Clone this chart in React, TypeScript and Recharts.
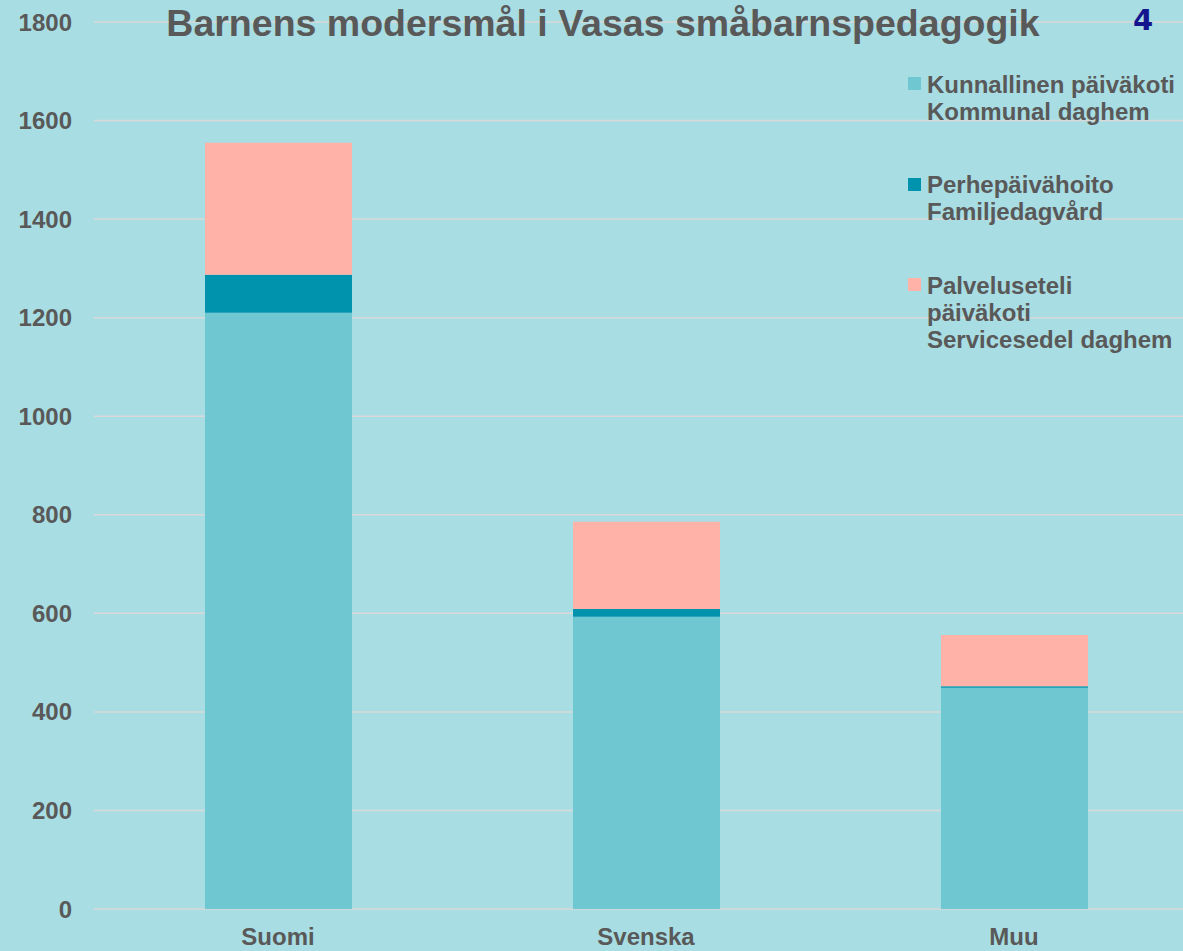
import React from "react";
import {
  BarChart,
  Bar,
  XAxis,
  YAxis,
  CartesianGrid,
  Legend,
} from "recharts";

const CATEGORIES = ["Suomi", "Svenska", "Muu"];
const KOMMUNAL = [1210, 593, 449];
const FAMILJEDAGVARD = [77, 16, 3];
const SERVICESEDEL = [268, 177, 104];
const Y_TICKS = [0, 200, 400, 600, 800, 1000, 1200, 1400, 1600, 1800];

const SERIES = [
  { key: "kommunal", color: "#6fc8d1", lines: ["Kunnallinen päiväkoti", "Kommunal daghem"] },
  { key: "familj", color: "#0093ad", lines: ["Perhepäivähoito", "Familjedagvård"] },
  { key: "service", color: "#ffb3a8", lines: ["Palveluseteli", "päiväkoti", "Servicesedel daghem"] },
];

const data = CATEGORIES.map((name, i) => ({
  name,
  kommunal: KOMMUNAL[i],
  familj: FAMILJEDAGVARD[i],
  service: SERVICESEDEL[i],
}));

const FONT = "'Liberation Sans', Arial, sans-serif";
const TEXT = "#595959";
const BG = "#a8dde3";

const tickStyle = { fill: TEXT, fontSize: 24, fontWeight: "bold" as const, fontFamily: FONT };

const LegendBox = () => (
  <div style={{ fontFamily: FONT, fontSize: 24, fontWeight: "bold", color: TEXT, lineHeight: "27px", textAlign: "left" }}>
    {SERIES.map((s) => (
      <div key={s.key} style={{ position: "relative", paddingLeft: 19, marginBottom: 46.5 }}>
        <span
          style={{
            position: "absolute",
            left: 0,
            top: 6.5,
            width: 13,
            height: 13,
            background: s.color,
          }}
        />
        {s.lines.map((l) => (
          <div key={l} style={{ whiteSpace: "nowrap" }}>{l}</div>
        ))}
      </div>
    ))}
  </div>
);

export default function App() {
  return (
    <div
      style={{
        position: "absolute",
        left: 0,
        top: 0,
        width: 1183,
        height: 951,
        overflow: "hidden",
        background: BG,
      }}
    >
      <BarChart
        width={1200}
        height={951}
        data={data}
        margin={{ top: 22, right: 2, left: 0, bottom: 0 }}
        barCategoryGap="30%"
      >
        <CartesianGrid vertical={false} stroke="#d9d9d9" strokeWidth={1.5} />
        <XAxis
          dataKey="name"
          axisLine={false}
          tickLine={false}
          tickSize={0}
          tickMargin={19}
          height={42}
          tick={tickStyle}
        />
        <YAxis
          domain={[0, 1800]}
          ticks={Y_TICKS}
          axisLine={false}
          tickLine={false}
          tickSize={0}
          tickMargin={22}
          width={94}
          tick={tickStyle}
          interval={0}
        />
        <Legend
          layout="horizontal"
          verticalAlign="middle"
          align="center"
          content={() => <LegendBox />}
          wrapperStyle={{ top: 70.6, left: 908, width: 280, height: 330 }}
        />
        {SERIES.map((s) => (
          <Bar
            key={s.key}
            dataKey={s.key}
            stackId="a"
            fill={s.color}
            barSize={147}
            isAnimationActive={false}
          />
        ))}
      </BarChart>
      <svg
        width={1183}
        height={60}
        style={{ position: "absolute", left: 0, top: 0, pointerEvents: "none" }}
      >
        <text
          x={603}
          y={36}
          textAnchor="middle"
          fontFamily={FONT}
          fontSize={37.5}
          fontWeight="bold"
          fill={TEXT}
        >
          Barnens modersmål i Vasas småbarnspedagogik
        </text>
        <text x={1133} y={30} fontFamily="'DejaVu Sans', sans-serif" fontSize={29} fontWeight="bold" fill="#14148f">
          4
        </text>
      </svg>
    </div>
  );
}
